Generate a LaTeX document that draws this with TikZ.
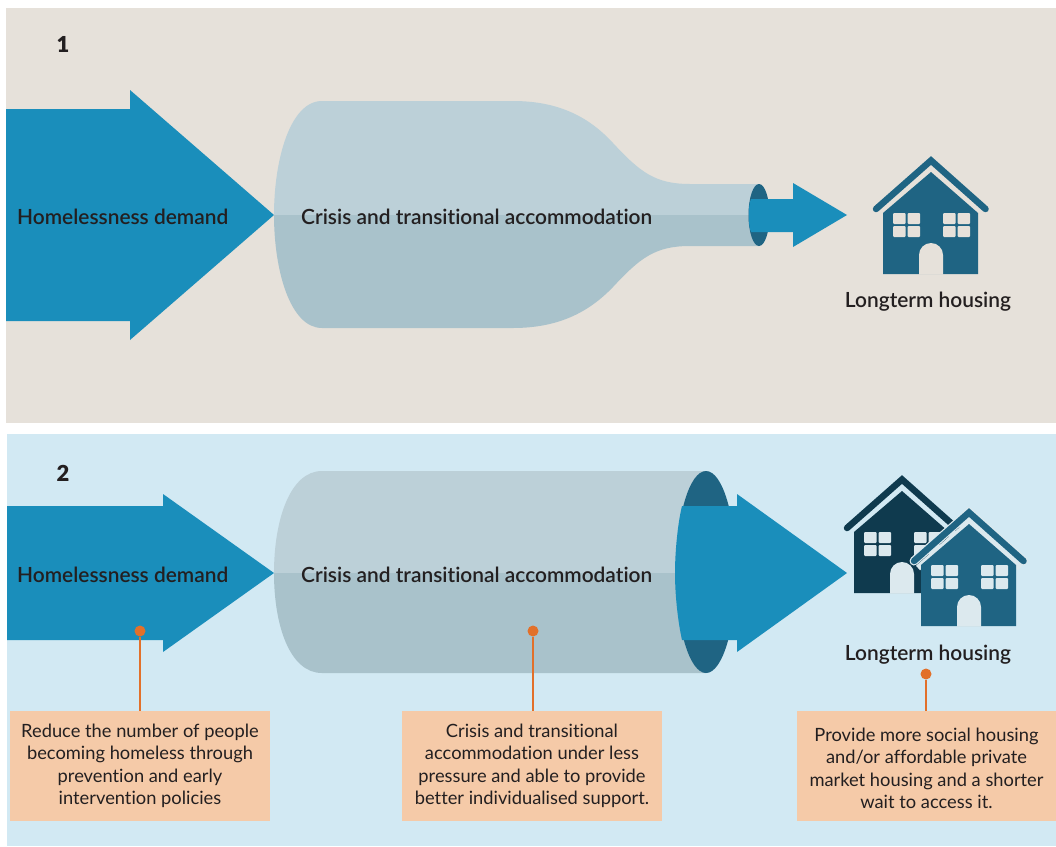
\documentclass[tikz,border=0pt]{standalone}
\usepackage{fontspec}
\setmainfont[Ligatures=NoCommon]{Lato}
\newfontfamily\medfont[Ligatures=NoCommon]{Lato Semibold}
\newfontfamily\numfont{Lato Black}
\definecolor{panelA}{HTML}{E6E1DA}
\definecolor{panelB}{HTML}{D2E9F3}
\definecolor{arrowblue}{HTML}{1A8EBB}
\definecolor{bottleup}{HTML}{BCD0D8}
\definecolor{bottlelow}{HTML}{A9C2CB}
\definecolor{housemid}{HTML}{1F6483}
\definecolor{housedark}{HTML}{0F3A4E}
\definecolor{pale}{HTML}{DCE9EE}
\definecolor{orangedot}{HTML}{E2702A}
\definecolor{peach}{HTML}{F5CAA8}
\definecolor{inktext}{HTML}{231F20}
\tikzset{
  label text/.style={font=\medfont\fontsize{20.9}{24}\selectfont,text=inktext,inner sep=0pt},
  num text/.style={font=\numfont\fontsize{22}{26}\selectfont,text=inktext,inner sep=0pt},
  note box/.style={fill=peach,minimum height=110pt,inner sep=0pt,align=center,text=inktext,font=\fontsize{18.3}{22.5}\selectfont},
  pin dot/.style={circle,fill=orangedot,minimum size=11pt,inner sep=0pt},
  pin line/.style={draw=orangedot,line width=1.1pt},
}
% #1 dx, #2 dy, #3 house colour, #4 window and door colour
\newcommand{\drawhouse}[4]{%
  \begin{scope}[shift={(#1,#2)}]
    \fill[#3] (931,172) -- (978,213) -- (978,274) -- (883,274) -- (883,213) -- cycle;
    \fill[#4] (919,274.5) -- (919,255) arc[start angle=180,end angle=360,radius=12] -- (943,274.5) -- cycle;
    \draw[#3,line width=6.5pt,line cap=round,miter limit=10] (876,209) -- (931,160.5) -- (985.5,209);
    \foreach \wx in {893,943}{
      \foreach \px/\py in {0/213,14.5/213,0/226,14.5/226}{
        \fill[#4,rounded corners=1pt] (\wx+\px,\py) rectangle ++(12.5,11);
      }
    }
  \end{scope}%
}
\begin{document}
\begin{tikzpicture}[x=1pt,y=-1pt]
\useasboundingbox (0,0) rectangle (1056,846);
\fill[white] (0,0) rectangle (1056,846);
% panels
\fill[panelA] (6,8) rectangle (1056,423);
\fill[panelB] (7,434) rectangle (1056,846);

% --- panel 1 ---
\fill[arrowblue] (6,109) -- (130,109) -- (130,90) -- (274,215) -- (130,340) -- (130,321) -- (6,321) -- cycle;
\fill[bottleup] (274,215) .. controls (274,160) and (290,101) .. (322,101) -- (513,101) .. controls (560,101) and (590,118) .. (613,143) .. controls (640,172) and (655,184) .. (690,184) -- (759,184) -- (759,215) -- cycle;
\fill[bottlelow] (274,215) .. controls (274,270) and (290,328) .. (322,328) -- (513,328) .. controls (560,328) and (590,311) .. (613,287) .. controls (640,258) and (655,246) .. (690,246) -- (759,246) -- (759,215) -- cycle;
\fill[housemid] (759,215) ellipse[x radius=10.5pt,y radius=31pt];
\fill[arrowblue] (751,199) .. controls (748,205) and (748,226) .. (751,232) -- (793,232) -- (793,247) -- (847,215) -- (793,183) -- (793,199) -- cycle;
\drawhouse{0}{0}{housemid}{panelA}

\node[num text] (n1) at (63,44) {1};
\node[label text,anchor=west] (d1) at (17,216.5) {Homelessness demand};
\node[label text,anchor=west] (c1) at (301,216.5) {Crisis and transitional accommodation};
\node[label text] (h1) at (928,301.5) {Longterm housing};

% --- panel 2 ---
\fill[arrowblue] (7,506) -- (163,506) -- (163,494) -- (274,573) -- (163,652) -- (163,640) -- (7,640) -- cycle;
\fill[bottleup] (274,573) .. controls (274,520) and (290,471) .. (322,471) -- (706,471) -- (706,573) -- cycle;
\fill[bottlelow] (274,573) .. controls (274,626) and (290,673) .. (322,673) -- (706,673) -- (706,573) -- cycle;
\fill[housemid] (706,572) ellipse[x radius=30pt,y radius=101pt];
\fill[arrowblue] (682,506) .. controls (678,522) and (675,550) .. (675,573) .. controls (675,596) and (678,622) .. (682,640) -- (737,640) -- (737,652) -- (847,573) -- (737,494) -- (737,506) -- cycle;

\drawhouse{-29}{319}{housedark}{pale}
\draw[pale,line width=9pt,line cap=round,miter limit=10] (914,561) -- (969,512.5) -- (1023.5,561);
\draw[pale,line width=6pt,miter limit=10] (918,568) -- (969,523) -- (1020,568);
\drawhouse{38}{352}{housemid}{pale}

\node[num text] (n2) at (63,473) {2};
\node[label text,anchor=west] (d2) at (17,574.5) {Homelessness demand};
\node[label text,anchor=west] (c2) at (301,574.5) {Crisis and transitional accommodation};
\node[label text] (h2) at (928,654.5) {Longterm housing};

% notes
\node[note box,minimum width=260pt] (b1) at (140,766) {Reduce the number of people\\becoming homeless through\\prevention and early\\intervention policies};
\node[note box,minimum width=260pt] (b2) at (532,766) {Crisis and transitional\\accommodation under less\\pressure and able to provide\\better individualised support.};
\node[note box,minimum width=259pt] (b3) at (926.5,766) {\rule{0pt}{18pt}Provide more social housing\\and/or affordable private\\market housing and a shorter\\wait to access it.};
\node[pin dot] (p1) at (140,631) {};
\node[pin dot] (p2) at (533,631) {};
\node[pin dot] (p3) at (926,674) {};
\draw[pin line] (p1) -- (p1 |- b1.north);
\draw[pin line] (p2) -- (p2 |- b2.north);
\draw[pin line] (p3) -- (p3 |- b3.north);
\end{tikzpicture}
\end{document}
